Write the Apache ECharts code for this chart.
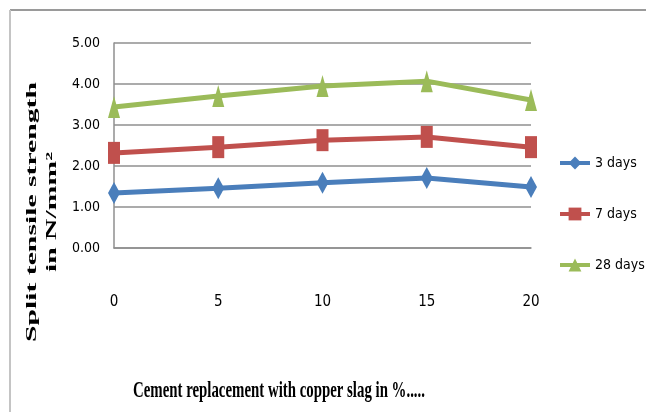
<!DOCTYPE html>
<html>
<head>
<meta charset="utf-8">
<script src="https://cdn.jsdelivr.net/npm/echarts@6/dist/echarts.min.js"></script>
<style>
  html, body { margin: 0; padding: 0; background: #fff; }
  #chart { width: 646px; height: 412px; }
</style>
</head>
<body>
<div id="chart"></div>
<script>
// Split tensile strength vs. copper slag replacement
const categories = ['0', '5', '10', '15', '20'];
const days3 = [1.34, 1.46, 1.59, 1.71, 1.49];
const days7 = [2.32, 2.46, 2.63, 2.71, 2.46];
const days28 = [3.44, 3.71, 3.95, 4.07, 3.61];
const seriesNames = ['3 days', '7 days', '28 days'];
const yTitle = 'Split tensile strength\nin N/mm\u00b2';
const xTitle = 'Cement replacement with copper slag in %.....';

const narrow = "'Liberation Sans Narrow', 'DejaVu Sans Condensed', 'Liberation Sans', sans-serif";
const serif = "'Liberation Serif', 'DejaVu Serif', serif";

// measure a string so a title can be stretched to a given span
function textWidth(str, font) {
  const c = document.createElement('canvas').getContext('2d');
  c.font = font;
  return Math.max.apply(null, str.split('\n').map(s => c.measureText(s).width));
}
const yTitleScale = 260 / textWidth('Split tensile strength', 'bold 14px ' + serif);
const xTitleScale = 292 / textWidth(xTitle, 'bold 15px ' + serif);

const chart = echarts.init(document.getElementById('chart'), null, { renderer: 'canvas' });

function lineSeries(name, data, color, symbol) {
  return {
    name: name,
    type: 'line',
    data: data,
    symbol: symbol,
    symbolSize: [12, 22],
    lineStyle: { color: color, width: 5 },
    itemStyle: { color: color },
    emphasis: { disabled: true },
    z: 3
  };
}

chart.setOption({
  animation: false,
  backgroundColor: '#ffffff',
  grid: { left: 114, top: 43, right: 115, bottom: 164, containLabel: false },
  xAxis: {
    type: 'category',
    data: categories,
    boundaryGap: false,
    axisLine: { lineStyle: { color: '#8f8f8f', width: 1.5 } },
    axisTick: { show: false },
    axisLabel: { margin: 47, color: '#000', fontSize: 15, fontFamily: narrow },
    splitLine: { show: false }
  },
  yAxis: {
    type: 'value',
    min: 0,
    max: 5,
    interval: 1,
    axisLine: { show: true, lineStyle: { color: '#8f8f8f', width: 1.5 } },
    axisTick: { show: false },
    axisLabel: {
      margin: 14, color: '#000', fontSize: 14, fontFamily: narrow,
      formatter: v => v.toFixed(2)
    },
    splitLine: { show: true, lineStyle: { color: '#8f8f8f', width: 1.5 } }
  },
  legend: {
    orient: 'vertical',
    left: 553,
    top: 151,
    itemWidth: 30,
    itemHeight: 16,
    itemGap: 37,
    lineStyle: { width: 4 },
    textStyle: { color: '#000', fontSize: 14, fontFamily: narrow },
    data: seriesNames
  },
  series: [
    lineSeries(seriesNames[0], days3, '#4a7ebb', 'diamond'),
    lineSeries(seriesNames[1], days7, '#c0504d', 'rect'),
    lineSeries(seriesNames[2], days28, '#9bbb59', 'triangle')
  ],
  graphic: [
    // frame edges along the top and left
    { type: 'line', shape: { x1: 10, y1: 10, x2: 646, y2: 10 }, style: { stroke: '#9a9a9a', lineWidth: 2 } },
    { type: 'line', shape: { x1: 10, y1: 10, x2: 10, y2: 412 }, style: { stroke: '#c4c4c4', lineWidth: 2 } },
    {
      type: 'text',
      x: 42, y: 212,
      rotation: Math.PI / 2,
      scaleX: yTitleScale,
      style: {
        text: yTitle,
        font: 'bold 14px ' + serif,
        fill: '#000',
        align: 'center',
        verticalAlign: 'middle',
        lineHeight: 20
      }
    },
    {
      type: 'text',
      x: 279, y: 391,
      scaleX: xTitleScale,
      scaleY: 1.6,
      style: {
        text: xTitle,
        font: 'bold 15px ' + serif,
        fill: '#000',
        align: 'center',
        verticalAlign: 'middle'
      }
    }
  ]
});
</script>
</body>
</html>
